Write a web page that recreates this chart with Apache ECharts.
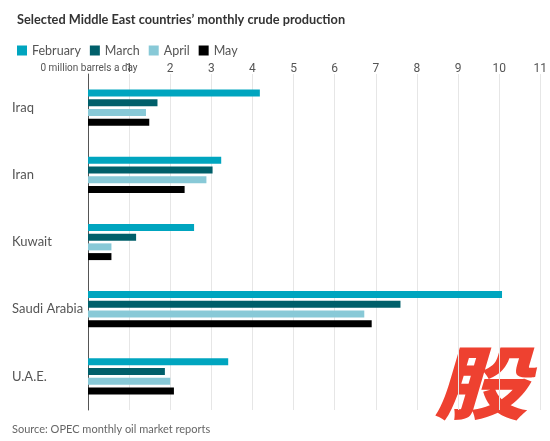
<!DOCTYPE html>
<html>
<head>
<meta charset="utf-8">
<script src="https://cdn.jsdelivr.net/npm/echarts@6/dist/echarts.min.js"></script>
<style>
  html, body { margin: 0; padding: 0; background: #fff; }
  #chart { width: 550px; height: 441px; }
</style>
</head>
<body>
<div id="chart"></div>
<script>
// 国家 / 月份数据 (million barrels a day)
var countries = ['Iraq', 'Iran', 'Kuwait', 'Saudi Arabia', 'U.A.E.'];
var months = ['February', 'March', 'April', 'May'];
var colors = ['#00a5bf', '#005f6a', '#88c9d7', '#000000'];
var february = [4.18, 3.24, 2.58, 10.07, 3.41];
var march = [1.69, 3.03, 1.17, 7.60, 1.87];
var april = [1.41, 2.88, 0.57, 6.72, 2.00];
var may = [1.49, 2.35, 0.57, 6.90, 2.09];
var xTicks = [0, 1, 2, 3, 4, 5, 6, 7, 8, 9, 10, 11];
var unitLabel = '0 million barrels a day';

var seriesData = [february, march, april, may];
var txt = 'Lato';
var narrow = 'Roboto';

var myChart = echarts.init(document.getElementById('chart'));

var option = {
  backgroundColor: '#fff',
  animation: false,
  title: {
    text: 'Selected Middle East countries\u2019 monthly crude production',
    left: 12,
    top: 8,
    textStyle: { fontFamily: txt, fontSize: 12.75, fontWeight: 'bold', color: '#333' }
  },
  legend: {
    left: 12,
    top: 39,
    itemWidth: 10,
    itemHeight: 10,
    itemGap: 9,
    icon: 'rect',
    data: months,
    textStyle: { fontFamily: txt, fontSize: 12.5, color: '#555' }
  },
  grid: { left: 88, right: 7, top: 74, bottom: 31 },
  xAxis: {
    type: 'value',
    position: 'top',
    min: xTicks[0],
    max: xTicks[xTicks.length - 1],
    interval: 1,
    axisLine: { show: false },
    axisTick: { show: false },
    splitLine: { lineStyle: { color: '#e6e6e6', width: 1 } },
    axisLabel: {
      margin: -1,
      showMinLabel: false,
      fontFamily: narrow,
      fontSize: 12,
      color: '#555'
    }
  },
  yAxis: {
    type: 'category',
    inverse: true,
    data: countries,
    axisLine: { show: true, lineStyle: { color: '#555', width: 1 } },
    axisTick: { show: false },
    axisLabel: {
      align: 'left',
      margin: 76,
      fontFamily: txt,
      fontSize: 13,
      color: '#555'
    }
  },
  series: months.map(function(m, i) {
    return {
      name: m,
      type: 'bar',
      data: seriesData[i],
      barWidth: 7,
      barGap: '39%',
      itemStyle: { color: colors[i] }
    };
  }),
  graphic: [
    {
      // 0 刻度的单位标签（与 1 重叠，同原图）
      type: 'text',
      x: 89,
      y: 68,
      style: { text: unitLabel, font: '10px Roboto', fill: '#555', align: 'center', verticalAlign: 'middle' }
    },
    {
      type: 'text',
      left: 12,
      top: 424,
      style: { text: 'Source: OPEC monthly oil market reports', font: '11px Lato', fill: '#666' }
    },
    {
      type: 'text',
      left: 434,
      top: 343,
      scaleY: 0.85,
      style: { text: '股', font: 'italic 900 94px "Noto Sans CJK SC"', fill: '#ee4130' }
    }
  ]
};

myChart.setOption(option);
</script>
</body>
</html>
